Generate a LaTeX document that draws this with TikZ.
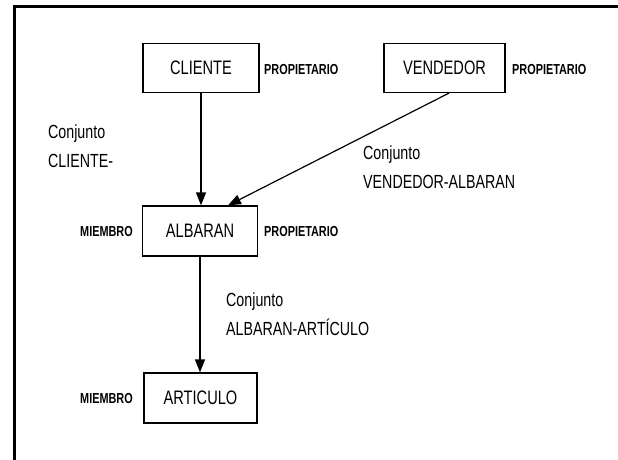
\documentclass[tikz,border=0pt]{standalone}
\usepackage{fontspec}
\setmainfont{Liberation Sans}[FakeStretch=0.75]
\newfontfamily\tagfont{Liberation Sans}[FakeStretch=0.75]
\usetikzlibrary{arrows.meta}

\tikzset{
  entity/.style={draw, line width=1.2pt, inner sep=0pt, minimum height=49pt,
    font=\fontsize{19.5}{23}\selectfont},
  role/.style={inner sep=0pt, font=\tagfont\bfseries\fontsize{14.5}{17}\selectfont},
  setlabel/.style={inner sep=0pt, anchor=north west, align=left,
    font=\fontsize{19}{29}\selectfont},
  link/.style={line width=1.2pt, -{Triangle[length=13pt,width=10pt]}},
  frameline/.style={line width=2.3pt}
}

\begin{document}
\begin{tikzpicture}[x=1pt, y=-1pt]
  \useasboundingbox (0,0) rectangle (618,460);
  \clip (0,0) rectangle (618,460);

  % outer frame (open to the right and bottom)
  \draw[frameline] (14.5,470) -- (14.5,6.5) -- (630,6.5);

  % record types
  \node[entity, minimum width=116pt] (cliente) at (201,68) {CLIENTE};
  \node[entity, minimum width=121pt] (vendedor) at (444.5,68) {VENDEDOR};
  \node[entity, minimum width=115pt, minimum height=50pt] (albaran) at (200,231) {ALBARAN};
  \node[entity, minimum width=113pt, minimum height=50pt] (articulo) at (200.5,398) {ARTICULO};

  % owner / member roles
  \node[role, anchor=west] (own1) at (264,70) {PROPIETARIO};
  \node[role, anchor=west] (own2) at (512,70) {PROPIETARIO};
  \node[role, anchor=west] (own3) at (264,232) {PROPIETARIO};
  \node[role, anchor=east] (mem1) at (133,232) {MIEMBRO};
  \node[role, anchor=east] (mem2) at (133,399) {MIEMBRO};

  % set names
  \node[setlabel] (set1) at (48,125) {Conjunto\\CLIENTE-};
  \node[setlabel] (set2) at (363,146) {Conjunto\\VENDEDOR-ALBARAN};
  \node[setlabel] (set3) at (226,293) {Conjunto\\ALBARAN-ARTÍCULO};

  % set links, owner to member
  \draw[link] (cliente.south) -- (cliente.south |- albaran.north);
  \draw[link] ([xshift=4.5pt]vendedor.south) -- ([xshift=28pt]albaran.north);
  \draw[link] (albaran.south) -- (articulo.north -| albaran.south);
\end{tikzpicture}
\end{document}
